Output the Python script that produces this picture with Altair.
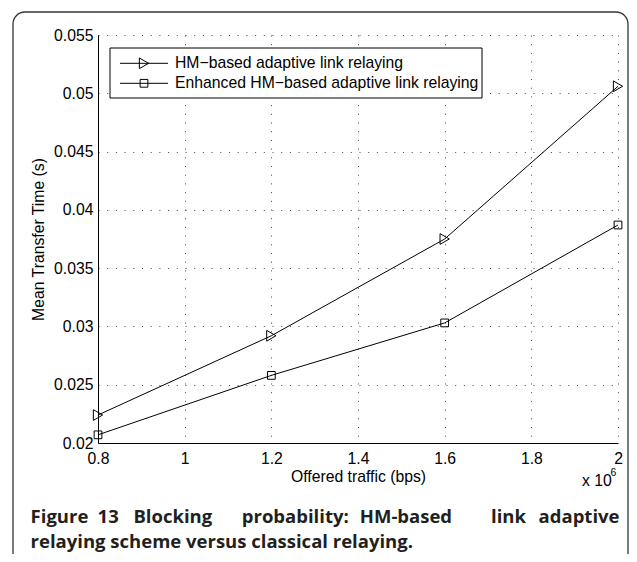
import math
import altair as alt
import pandas as pd

# ---------------- data ----------------
offered_traffic_bps = [800000, 1200000, 1600000, 2000000]
hm_based = [0.0224, 0.0292, 0.0375, 0.0506]
enhanced_hm_based = [0.0207, 0.0258, 0.0303, 0.0387]
series_names = ["HM−based adaptive link relaying", "Enhanced HM−based adaptive link relaying"]
series_shapes = ["triangle-right", "square"]
series_sizes = [115, 60]
x_ticks = [800000, 1000000, 1200000, 1400000, 1600000, 1800000, 2000000]
y_ticks = [0.02, 0.025, 0.03, 0.035, 0.04, 0.045, 0.05, 0.055]
x_title = "Offered traffic (bps)"
y_title = "Mean Transfer Time (s)"
caption_line1 = ["Figure", "13", "Blocking", "probability:", "HM-based", "link", "adaptive"]
caption_line2 = "relaying scheme versus classical relaying."

# ---------------- layout (pixels, relative to plot origin) ----------------
W, H = 520, 408
FONT = "Liberation Sans"
FS = 15.75
CAP_FS = 18.5
cap_x1 = [-67.4, -0.4, 35.4, 143.8, 261.8, 393.0, 521.5]
cap_y1, cap_y2 = 487.5, 512.5
BORDER_L, BORDER_R, BORDER_T, BORDER_B, RAD = -85, 530, -23, 540, 12
BORDER_COLOR, BORDER_W = "#333333", 1.3

df = pd.DataFrame({
    "traffic": offered_traffic_bps * 2,
    "time": hm_based + enhanced_hm_based,
    "series": [series_names[0]] * len(hm_based) + [series_names[1]] * len(enhanced_hm_based),
})

grid_kw = dict(grid=True, gridColor="#333333", gridDash=[1, 7.7], gridWidth=1, gridOpacity=0.9)

x_enc = alt.X(
    "traffic:Q",
    scale=alt.Scale(domain=[800000, 2000000], nice=False, zero=False),
    axis=alt.Axis(
        values=x_ticks, labelExpr="format(datum.value / 1e6, '~g')", title=x_title,
        labelFont=FONT, labelFontSize=FS, labelColor="black", labelPadding=8,
        titleFont=FONT, titleFontSize=FS, titleFontWeight="normal", titleColor="black", titlePadding=4,
        domainColor="black", domainWidth=1, ticks=False, labelFlush=False, **grid_kw,
    ),
)
y_enc = alt.Y(
    "time:Q",
    scale=alt.Scale(domain=[0.02, 0.055], nice=False, zero=False),
    axis=alt.Axis(
        values=y_ticks, format="~g", title=y_title,
        labelFont=FONT, labelFontSize=FS, labelColor="black", labelPadding=5,
        titleFont=FONT, titleFontSize=FS, titleFontWeight="normal", titleColor="black", titlePadding=7,
        domainColor="black", domainWidth=1, ticks=False, labelFlush=False, **grid_kw,
    ),
)

base = alt.Chart(df)
lines = base.mark_line(color="black", strokeWidth=1).encode(x=x_enc, y=y_enc, detail="series:N")

layers = [lines]
for name, shp, sz in zip(series_names, series_shapes, series_sizes):
    layers.append(
        base.transform_filter(alt.datum.series == name)
        .mark_point(shape=shp, filled=False, color="black", strokeWidth=1, size=sz, opacity=1)
        .encode(x=x_enc, y=y_enc)
    )

one = pd.DataFrame({"k": [0]})

# legend box
layers.append(
    alt.Chart(one).mark_rect(fill="white", stroke="black", strokeWidth=1).encode(
        x=alt.value(12), x2=alt.value(384), y=alt.value(13), y2=alt.value(63)
    )
)
for i, (name, shp, sz) in enumerate(zip(series_names, series_shapes, series_sizes)):
    yy = 28.3 + 20 * i
    layers.append(
        alt.Chart(one).mark_rule(color="black", strokeWidth=1).encode(
            x=alt.value(22), x2=alt.value(70), y=alt.value(yy)
        )
    )
    layers.append(
        alt.Chart(one).mark_point(shape=shp, filled=False, color="black", strokeWidth=1, size=sz, opacity=1)
        .encode(x=alt.value(46), y=alt.value(yy))
    )
    layers.append(
        alt.Chart(pd.DataFrame({"label": [name]}))
        .mark_text(align="left", baseline="middle", font=FONT, fontSize=FS, color="black")
        .encode(x=alt.value(77), y=alt.value(yy), text="label:N")
    )

# x 10^6 multiplier
layers.append(
    alt.Chart(pd.DataFrame({"t": ["x 10"]}))
    .mark_text(align="left", baseline="alphabetic", font=FONT, fontSize=FS, color="black")
    .encode(x=alt.value(484), y=alt.value(451), text="t:N")
)
layers.append(
    alt.Chart(pd.DataFrame({"t": ["6"]}))
    .mark_text(align="left", baseline="alphabetic", font=FONT, fontSize=10.5, color="black")
    .encode(x=alt.value(512.5), y=alt.value(441), text="t:N")
)

# figure border (open at the bottom, rounded top corners)
for bx in (BORDER_L, BORDER_R):
    layers.append(
        alt.Chart(one).mark_rule(color=BORDER_COLOR, strokeWidth=BORDER_W).encode(
            x=alt.value(bx), y=alt.value(BORDER_T + RAD), y2=alt.value(BORDER_B)
        )
    )
layers.append(
    alt.Chart(one).mark_rule(color=BORDER_COLOR, strokeWidth=BORDER_W).encode(
        x=alt.value(BORDER_L + RAD), x2=alt.value(BORDER_R - RAD), y=alt.value(BORDER_T)
    )
)
for cx, t0 in [(BORDER_L + RAD, 1.5 * math.pi), (BORDER_R - RAD, 0.0)]:
    layers.append(
        alt.Chart(one).mark_arc(
            radius=RAD + BORDER_W / 2, radius2=RAD - BORDER_W / 2,
            theta=t0, theta2=t0 + 0.5 * math.pi, color=BORDER_COLOR,
        ).encode(x=alt.value(cx), y=alt.value(BORDER_T + RAD))
    )

# caption
CAP_FONT = "Open Sans"
for j, (word, cx) in enumerate(zip(caption_line1, cap_x1)):
    layers.append(
        alt.Chart(pd.DataFrame({"w": [word]}))
        .mark_text(align="right" if j == len(caption_line1) - 1 else "left", baseline="alphabetic",
                   font=CAP_FONT, fontSize=CAP_FS, fontWeight="bold", color="#231f20")
        .encode(x=alt.value(cx), y=alt.value(cap_y1), text="w:N")
    )
layers.append(
    alt.Chart(pd.DataFrame({"w": [caption_line2]}))
    .mark_text(align="left", baseline="alphabetic", font=CAP_FONT, fontSize=CAP_FS, fontWeight="bold", color="#231f20")
    .encode(x=alt.value(cap_x1[0]), y=alt.value(cap_y2), text="w:N")
)

chart = (
    alt.layer(*layers)
    .properties(
        width=W, height=H,
        autosize=alt.AutoSizeParams(type="none"),
        padding={"left": 90, "top": 27, "right": 11, "bottom": 111},
    )
    .configure_view(stroke=None)
)

chart.save("out.html", embed_options={"renderer": "svg", "actions": False})
